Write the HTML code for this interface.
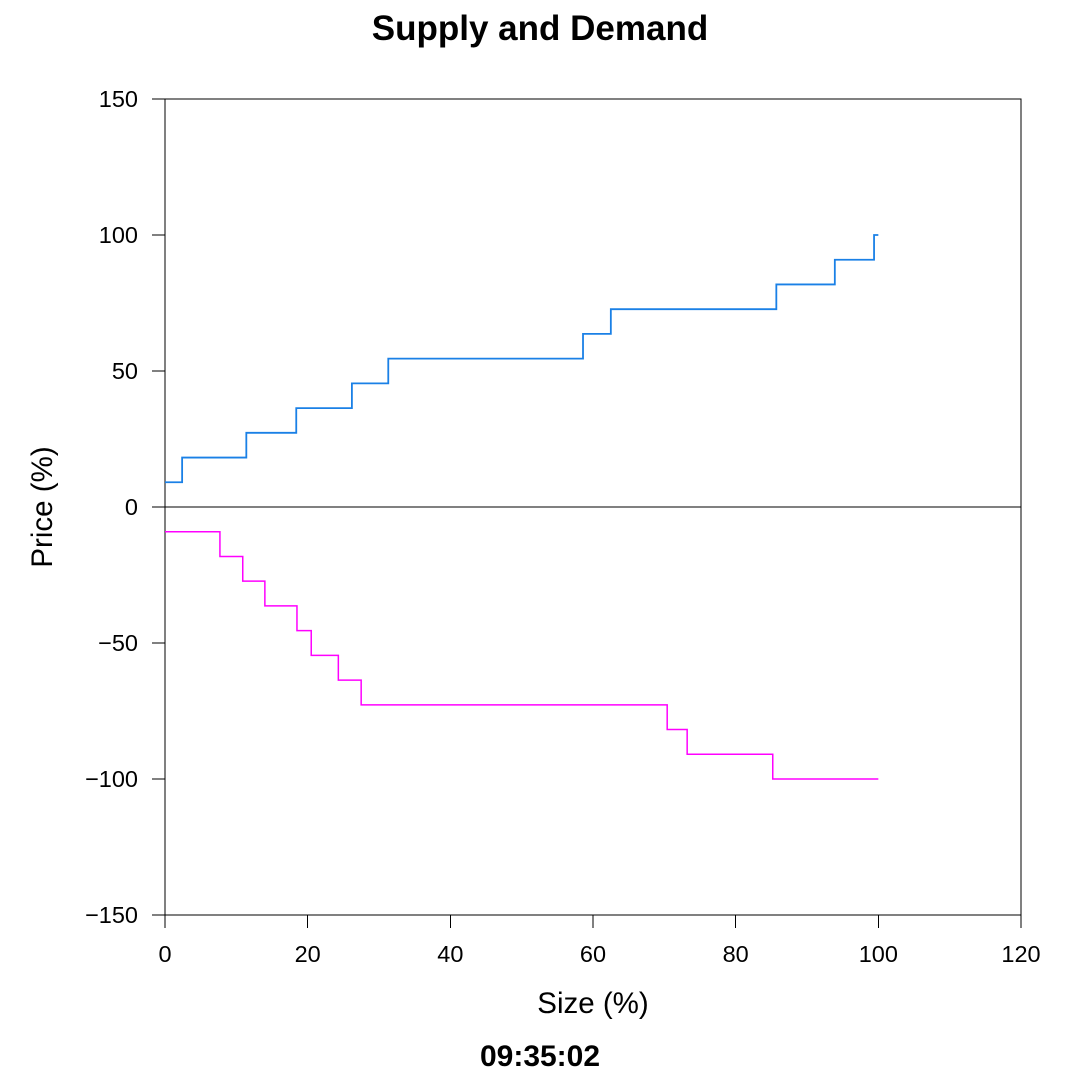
<!DOCTYPE html>
<html><head><meta charset="utf-8"><style>
html,body{margin:0;padding:0;background:#fff;}
svg{display:block;font-family:"Liberation Sans",Arial,sans-serif;}
</style></head><body>
<svg id="chart" width="1080" height="1080" viewBox="0 0 1080 1080">
<rect width="1080" height="1080" fill="#fff"/>
<text x="540" y="40" text-anchor="middle" font-size="35" font-weight="bold">Supply and Demand</text>
<rect x="165" y="99" width="856" height="816" fill="none" stroke="#000" stroke-width="1" shape-rendering="crispEdges"/>
<g id="xticks"></g>
<g id="yticks"></g>
<text x="593" y="1013" text-anchor="middle" font-size="29.5">Size (%)</text>
<text transform="translate(52,507) rotate(-90)" text-anchor="middle" font-size="29.5">Price (%)</text>
<text x="540" y="1066" text-anchor="middle" font-size="30" font-weight="bold">09:35:02</text>
<g id="series"></g>
</svg>
<script>
const xTicks = [0, 20, 40, 60, 80, 100, 120];
const yTicks = [150, 100, 50, 0, -50, -100, -150];
const yTickLabels = ["150", "100", "50", "0", "\u221250", "\u2212100", "\u2212150"];
const supplyX = [0, 2.4, 11.4, 18.4, 26.2, 31.3, 58.6, 62.5, 85.7, 93.9, 99.4, 100];
const supplyY = [9.09, 18.18, 27.27, 36.36, 45.45, 54.55, 63.64, 72.73, 81.82, 90.91, 100, 100];
const demandX = [0, 7.7, 10.9, 14.0, 18.5, 20.5, 24.3, 27.5, 70.4, 73.2, 85.2, 100];
const demandY = [-9.09, -18.18, -27.27, -36.36, -45.45, -54.55, -63.64, -72.73, -81.82, -90.91, -100, -100];

const NS = "http://www.w3.org/2000/svg";
const X0 = 165, X1 = 1021, Y0 = 915, Y1 = 99;
function sx(v){ return X0 + (v - 0) / 120 * (X1 - X0); }
function sy(v){ return Y0 - (v + 150) / 300 * (Y0 - Y1); }
function mk(tag, attrs){ const e = document.createElementNS(NS, tag); for (const k in attrs) e.setAttribute(k, attrs[k]); return e; }

const xg = document.getElementById("xticks");
xTicks.forEach(t => {
  const l = mk("line", {x1: sx(t), x2: sx(t), y1: Y0, y2: Y0 + 13, stroke: "#000", "shape-rendering": "crispEdges"});
  
  
  xg.appendChild(l);
  const tx = mk("text", {x: sx(t), y: Y0 + 47, "text-anchor": "middle", "font-size": "23.5"});
  tx.textContent = String(t);
  
  
  xg.appendChild(tx);
});
const yg = document.getElementById("yticks");
yTicks.forEach((t, i) => {
  const l = mk("line", {x1: X0 - 13, x2: X0, y1: sy(t), y2: sy(t), stroke: "#000", "shape-rendering": "crispEdges"});
  
  
  yg.appendChild(l);
  const tx = mk("text", {x: X0 - 27, y: sy(t) + 8, "text-anchor": "end", "font-size": "23.5"});
  tx.textContent = yTickLabels[i];
  
  
  yg.appendChild(tx);
});
const sg = document.getElementById("series");
const zl = mk("line", {x1: X0, x2: X1, y1: sy(0), y2: sy(0), stroke: "#000", "stroke-width": 1, "shape-rendering": "crispEdges"});


sg.appendChild(zl);
function stepPath(xs, ys){
  let d = "M" + sx(xs[0]) + "," + sy(ys[0]);
  for (let i = 1; i < xs.length; i++){
    d += " H" + sx(xs[i]) + " V" + sy(ys[i]);
  }
  return d;
}
const sp = mk("path", {d: stepPath(supplyX, supplyY), fill: "none", stroke: "#1a80e6", "stroke-width": 1.8});


sg.appendChild(sp);
const dp = mk("path", {d: stepPath(demandX, demandY), fill: "none", stroke: "#ff00ff", "stroke-width": 1.5});


sg.appendChild(dp);
</script>
</body></html>
